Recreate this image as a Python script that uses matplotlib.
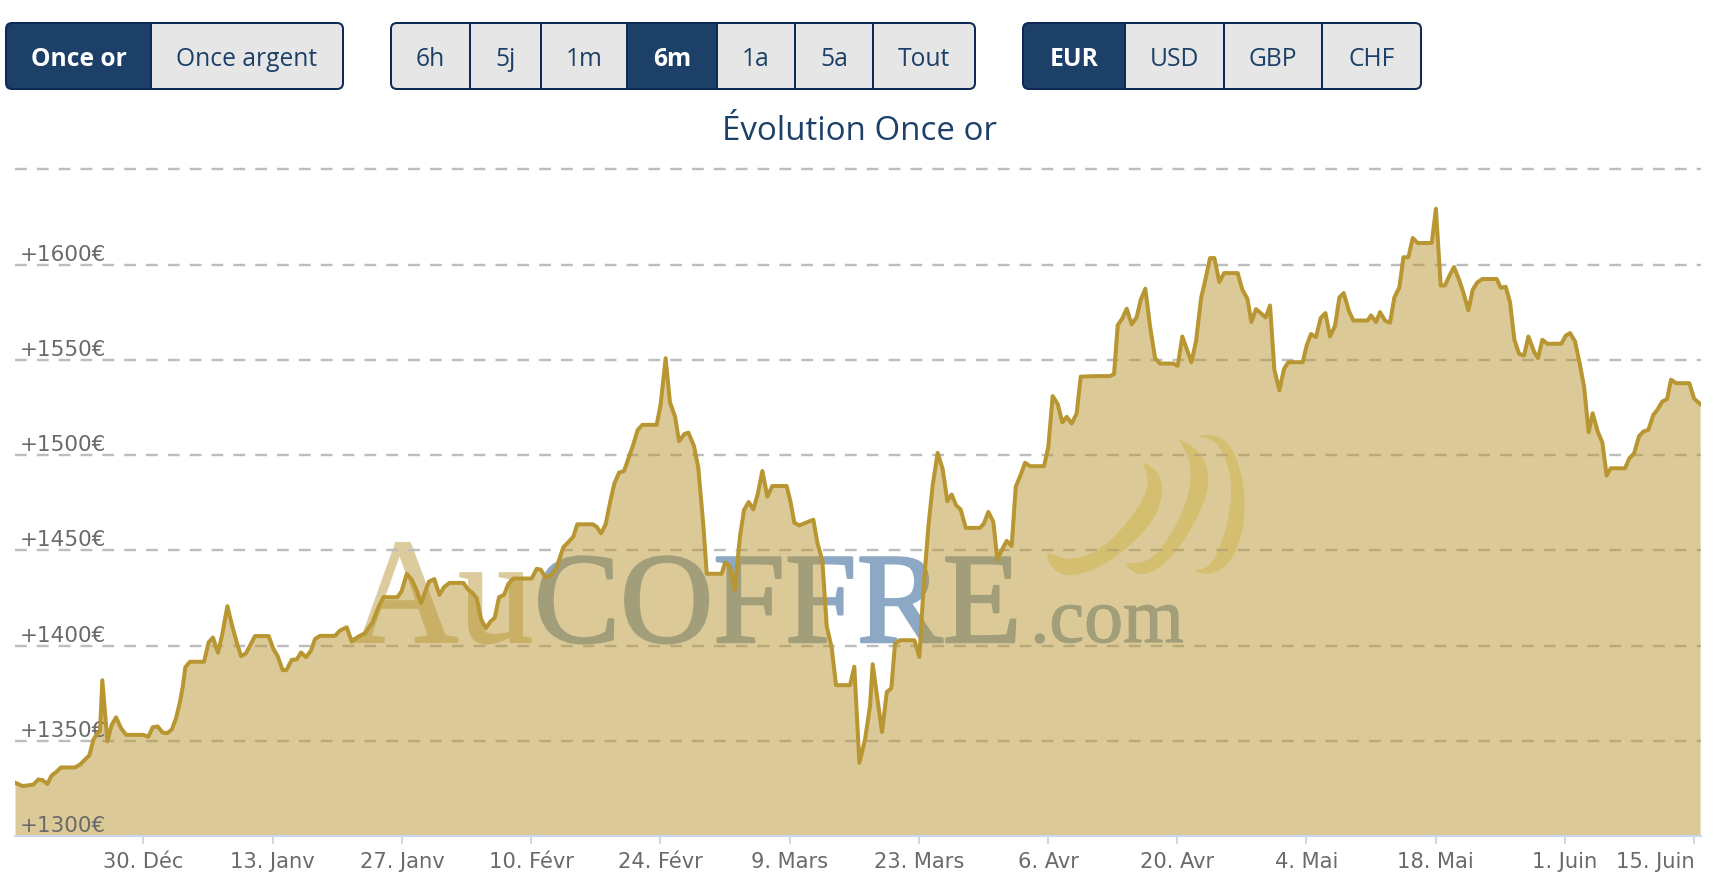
#!/usr/bin/env python3
"""Evolution of the gold ounce in EUR over 6 months (AuCOFFRE style chart)."""

import matplotlib
matplotlib.use('Agg')  # Use non-interactive backend
import matplotlib.pyplot as plt
import matplotlib.patheffects as pe
from matplotlib.patches import FancyBboxPatch, PathPatch, Rectangle
from matplotlib.path import Path
from matplotlib.transforms import Affine2D

# Days counted from 30 Dec (half-day quotes)
DAYS = [
    -13.92, -13.09, -11.93, -11.39, -10.92, -10.42, -9.95, -9.48, -8.93, -7.42,
    -6.88, -5.86, -5.43, -5.0, -4.71, -4.46, -3.91, -3.45, -2.97, -2.43,
    -1.89, -0.01, 0.53, 1.0, 1.54, 2.08, 2.59, 3.09, 3.52, 3.96,
    4.25, 4.54, 5.04, 6.56, 7.06, 7.53, 8.07, 8.54, 9.09, 9.56,
    10.1, 10.57, 11.11, 12.08, 13.56, 14.07, 14.54, 15.08, 15.51, 16.06,
    16.6, 17.07, 17.61, 18.15, 18.59, 19.13, 20.75, 21.29, 22.02, 22.56,
    23.28, 24.0, 24.83, 25.45, 25.99, 27.51, 27.97, 28.52, 29.06, 29.6,
    30.07, 30.93, 31.51, 32.06, 32.56, 33.14, 34.66, 35.2, 35.67, 36.1,
    36.57, 37.08, 37.62, 38.05, 38.52, 39.06, 39.53, 40.07, 42.06, 42.6,
    43.03, 43.58, 44.12, 44.7, 45.49, 46.03, 46.57, 47.0, 48.67, 49.1,
    49.57, 50.07, 50.62, 51.01, 51.52, 52.06, 52.64, 53.07, 53.54, 54.05,
    55.6, 56.03, 56.57, 57.04, 57.59, 58.02, 58.6, 59.03, 59.64, 60.11,
    60.66, 61.02, 62.64, 63.0, 63.54, 64.05, 64.63, 65.06, 65.57, 66.07,
    66.54, 67.05, 67.59, 68.13, 69.68, 70.12, 70.51, 71.06, 72.57, 73.01,
    73.55, 74.02, 74.56, 75.03, 76.55, 77.01, 77.56, 78.17, 78.71, 79.0,
    80.01, 80.53, 81.02, 81.42, 81.96, 83.52, 84.06, 84.49, 85.03, 85.5,
    86.04, 86.59, 87.09, 87.56, 88.03, 88.54, 89.08, 90.63, 91.06, 91.53,
    92.07, 92.51, 92.98, 93.52, 94.06, 94.5, 95.04, 95.51, 96.05, 97.56,
    98.03, 98.5, 99.05, 99.55, 100.02, 100.56, 101.1, 101.54, 103.09, 104.71,
    105.15, 105.55, 106.05, 106.52, 107.06, 107.6, 108.04, 108.54, 109.05, 109.59,
    110.13, 111.58, 112.05, 112.55, 113.53, 114.03, 114.58, 115.0, 115.55, 116.02,
    116.56, 117.07, 118.55, 119.05, 119.6, 120.03, 120.53, 121.58, 122.05, 122.52,
    123.06, 123.57, 124.04, 125.59, 126.02, 126.49, 127.03, 127.54, 128.05, 128.55,
    129.09, 129.56, 130.03, 130.61, 131.08, 132.63, 132.99, 133.53, 133.97, 134.51,
    135.05, 135.52, 136.06, 136.5, 137.04, 137.51, 138.05, 139.57, 140.02, 140.54,
    141.0, 141.48, 141.98, 142.53, 142.99, 143.54, 144.01, 144.51, 145.05, 146.61,
    147.04, 147.58, 148.05, 148.52, 149.03, 149.57, 150.04, 150.65, 151.08, 151.55,
    152.1, 153.61, 154.08, 154.55, 155.09, 155.63, 156.07, 156.57, 157.0, 157.55,
    158.05, 158.52, 158.96, 160.51, 160.98, 161.49, 162.03, 162.5, 163.04, 163.58,
    164.01, 164.55, 165.06, 165.49, 166.04, 167.48, 167.99, 168.64,
]
PRICES = [
    1328, 1326.2, 1327, 1329.7, 1329.3, 1327.3, 1331.8, 1333.5, 1336, 1336,
    1337.5, 1342.4, 1350.5, 1354, 1354.9, 1381.8, 1349.7, 1358.3, 1362.3, 1356.6,
    1353.1, 1353.1, 1352.1, 1357.1, 1357.5, 1354.3, 1354, 1356.1, 1361.8, 1370.5,
    1378.3, 1388.7, 1391.5, 1391.5, 1401.7, 1404.2, 1396.2, 1406.1, 1420.7, 1411.3,
    1401.7, 1394.4, 1396, 1405, 1405, 1398.3, 1394.4, 1387, 1387.3, 1392.5,
    1392.7, 1396.4, 1393.9, 1397.4, 1403.5, 1405.1, 1405.1, 1407.9, 1409.6, 1402.1,
    1404.7, 1406.5, 1412.3, 1420.1, 1425.4, 1425.4, 1428.6, 1437.7, 1434.7, 1428.9,
    1422.3, 1433.6, 1434.9, 1426.6, 1430.7, 1432.9, 1432.9, 1429.3, 1427.5, 1424.9,
    1414, 1409.1, 1412.8, 1414.5, 1425.4, 1426.6, 1432.4, 1435.2, 1435.2, 1440.3,
    1439.9, 1435.6, 1437, 1440.3, 1451.7, 1454.3, 1457.2, 1463.7, 1463.7, 1462.4,
    1458.9, 1463.7, 1476.8, 1485, 1490.8, 1491.7, 1499.6, 1505.7, 1513.2, 1515.9,
    1515.9, 1526.7, 1550.9, 1527.6, 1520.3, 1507.3, 1511.1, 1511.8, 1504.8, 1493.4,
    1462.8, 1437.7, 1437.7, 1443.5, 1441.8, 1429.2, 1457.5, 1471.2, 1475.4, 1471.5,
    1479.4, 1491.7, 1478.2, 1483.8, 1483.8, 1475.1, 1464.5, 1463.1, 1466.1, 1454,
    1444.4, 1410.2, 1398.8, 1379.2, 1379.2, 1388.9, 1338.4, 1350.7, 1368.2, 1390.2,
    1354.6, 1375.6, 1377.6, 1401, 1402.8, 1402.8, 1394, 1429, 1462.3, 1484.2,
    1501.2, 1492.5, 1475.8, 1479.3, 1473.7, 1471.4, 1461.8, 1461.8, 1464.1, 1470.2,
    1465, 1445.2, 1450.1, 1455, 1452.3, 1483.4, 1489.8, 1496, 1494.2, 1494.2,
    1504.4, 1531, 1526.8, 1517.2, 1520.1, 1516.6, 1521.9, 1541.2, 1541.5, 1541.5,
    1542.6, 1568.3, 1571.8, 1576.9, 1568.7, 1572.4, 1581.5, 1587.4, 1567.6, 1551,
    1548.1, 1548.1, 1546.9, 1562.3, 1548.8, 1559.7, 1582.5, 1591.2, 1603.5, 1603.5,
    1590.9, 1595.6, 1595.6, 1586.9, 1582.1, 1569.9, 1576.7, 1572.3, 1578.6, 1544.8,
    1534, 1545.4, 1548.8, 1548.8, 1557.6, 1563.6, 1562, 1572, 1574.6, 1562.3,
    1567.9, 1582.8, 1585.1, 1575.5, 1570.7, 1570.7, 1573.4, 1569.9, 1575.1, 1570.6,
    1569.5, 1582.8, 1588.1, 1603.9, 1603.9, 1614, 1611.4, 1611.4, 1629.4, 1589.1,
    1589.1, 1594.2, 1598.8, 1592.1, 1585.5, 1576, 1586.9, 1590.7, 1592.5, 1592.5,
    1587.9, 1588.4, 1580.4, 1560.6, 1553.2, 1552.3, 1562.3, 1554.4, 1550.9, 1560.6,
    1558.5, 1558.5, 1562.7, 1564.1, 1559.7, 1547.4, 1536, 1512, 1522, 1512.4,
    1506.7, 1489.3, 1493.1, 1493.1, 1498.4, 1500.9, 1510, 1512.4, 1513.3, 1521.2,
    1523.8, 1528.2, 1529.4, 1539.6, 1537.8, 1537.8, 1529.7, 1526.9,
]

TICK_DAYS = [0, 14, 28, 42, 56, 70, 84, 98, 112, 126, 140, 154, 168]
TICK_LABELS = ["30. Déc", "13. Janv", "27. Janv", "10. Févr", "24. Févr", "9. Mars",
               "23. Mars", "6. Avr", "20. Avr", "4. Mai", "18. Mai", "1. Juin", "15. Juin"]
Y_TICKS = [1300, 1350, 1400, 1450, 1500, 1550, 1600, 1650]
Y_LABELS = ["+1300€", "+1350€", "+1400€", "+1450€", "+1500€", "+1550€", "+1600€", ""]

TITLE = "Évolution Once or"
BUTTON_GROUPS = [
    (["Once or", "Once argent"], [6, 151, 343], 0),
    (["6h", "5j", "1m", "6m", "1a", "5a", "Tout"], [391, 470, 541, 627, 717, 795, 873, 975], 3),
    (["EUR", "USD", "GBP", "CHF"], [1023, 1125, 1224, 1322, 1421], 0),
]

LINE_COLOR = '#b89632'
NAVY = '#1c4068'
BORDER = '#0c2a55'
BLUE_MARK = '#8ca8c4'
GOLD_MARK = '#dccb9c'
RING_COLOR = '#f0eaae'

W, H = 1714, 886
PX = 0.72  # points per pixel at dpi 100

# Crescent outlines of the watermark, in image pixels
RINGS = [
    [(1140, 458), (1165, 478), (1157, 520), (1112, 562), (1072, 578), (1052, 570), (1044, 550),
     (1068, 561), (1095, 553), (1120, 532), (1142, 503), (1150, 480)],
    [(1175, 437), (1200, 450), (1211, 478), (1202, 510), (1175, 556), (1143, 579), (1120, 562),
     (1147, 564), (1170, 538), (1188, 500), (1192, 467), (1183, 445)],
    [(1193, 436), (1218, 434), (1236, 452), (1247, 500), (1240, 545), (1226, 567), (1210, 575), (1190, 571),
     (1210, 568), (1222, 543), (1230, 513), (1232, 480), (1223, 450), (1210, 438)],
]


def smooth_closed(points):
    """Closed path, quadratic curves through the midpoints of the outline."""
    n = len(points)
    mids = [((points[i][0] + points[(i + 1) % n][0]) / 2,
             (points[i][1] + points[(i + 1) % n][1]) / 2) for i in range(n)]
    verts = [mids[-1]]
    codes = [Path.MOVETO]
    for i in range(n):
        verts += [points[i], mids[i]]
        codes += [Path.CURVE3, Path.CURVE3]
    return Path(verts, codes)


def draw_buttons(ax, to_px):
    """Draw the three button groups above the chart."""
    top, bottom = 23, 89
    for labels, edges, active in BUTTON_GROUPS:
        outline = FancyBboxPatch((edges[0], top), edges[-1] - edges[0], bottom - top,
                                 boxstyle='round,pad=0,rounding_size=6', transform=to_px,
                                 facecolor='none', edgecolor=BORDER, linewidth=2 * PX,
                                 clip_on=False, zorder=6)
        ax.add_patch(outline)
        for i, label in enumerate(labels):
            x0, x1 = edges[i], edges[i + 1]
            on = i == active
            seg = Rectangle((x0, top), x1 - x0, bottom - top, transform=to_px,
                            facecolor=NAVY if on else '#e6e6e6', edgecolor='none', zorder=5)
            ax.add_patch(seg)
            # add_patch clips to the axes box, the buttons sit above it
            seg.set_clip_box(None)
            seg.set_clip_path(outline)
            ax.text((x0 + x1) / 2, 59, label, transform=to_px, ha='center', va='center',
                    family='Open Sans', fontsize=24.6 * PX, zorder=7,
                    color='white' if on else NAVY, fontweight='bold' if on else 'normal')
            if i > 0:
                ax.plot([x0, x0], [top, bottom], transform=to_px, color=BORDER,
                        lw=2 * PX, zorder=6, clip_on=False)


def draw_watermark(ax, to_px):
    """AuCOFFRE.com logo, sits under the gold area."""
    serif = dict(transform=to_px, family='Liberation Serif', va='baseline', zorder=0.2)
    for x, word, color, size, stroke in [(350, "Au", GOLD_MARK, 150, 2.0),
                                         (534, "COFFRE", BLUE_MARK, 129, 2.5),
                                         (1030, ".com", BLUE_MARK, 78, 1.2)]:
        txt = ax.text(x, 642, word, color=color, fontsize=size * PX, **serif)
        txt.set_path_effects([pe.withStroke(linewidth=stroke * PX, foreground=color)])
    for ring in RINGS:
        ax.add_patch(PathPatch(smooth_closed(ring), transform=to_px, facecolor=RING_COLOR,
                               edgecolor='none', zorder=0.2, clip_on=False))


def main():
    fig = plt.figure(figsize=(W / 100, H / 100), dpi=100)
    ax = fig.add_axes([15 / W, (H - 836) / H, (1701 - 15) / W, (836 - 169.5) / H])
    ax.patch.set_alpha(0)
    ax.set_axisbelow(False)

    # image pixels, origin top left
    to_px = Affine2D().scale(1, -1).translate(0, H)

    # top line sits on the axes edge, so no clipping here
    ax.hlines(Y_TICKS[1:], DAYS[0], 168.74, colors='#bdbdbd', linewidth=2.4 * PX,
              linestyles=[(0, (4.9, 4.2))], zorder=0.5, clip_on=False)
    ax.fill_between(DAYS, PRICES, 1300, color=LINE_COLOR, alpha=0.5, linewidth=0, zorder=2)
    ax.plot(DAYS, PRICES, color=LINE_COLOR, lw=4 * PX, solid_joinstyle='round', zorder=3)

    ax.set_xlim(DAYS[0], 168.74)
    ax.set_ylim(1300, 1650)

    for side in ['top', 'right', 'left']:
        ax.spines[side].set_visible(False)
    ax.spines['bottom'].set_color('#ccd6eb')
    ax.spines['bottom'].set_linewidth(2 * PX)

    ax.set_xticks(TICK_DAYS)
    ax.set_xticklabels(TICK_LABELS)
    ax.tick_params(axis='x', length=8 * PX, width=2 * PX, color='#ccd6eb', pad=6,
                   labelsize=21 * PX, labelcolor='#6a6a6a')
    ax.get_xticklabels()[-1].set_ha('right')

    ax.set_yticks(Y_TICKS)
    ax.set_yticklabels(Y_LABELS)
    ax.tick_params(axis='y', length=0, pad=-5 * PX, labelsize=21.5 * PX, labelcolor='#6a6a6a')
    for lbl in ax.get_yticklabels():
        lbl.set_ha('left')
        lbl.set_va('bottom')

    ax.text(859, 132, TITLE, transform=to_px, ha='center', va='center', family='Open Sans',
            fontsize=33 * PX, color=NAVY)

    draw_buttons(ax, to_px)
    draw_watermark(ax, to_px)

    fig.savefig('out.png', dpi=100)
    plt.close(fig)


if __name__ == "__main__":
    main()
